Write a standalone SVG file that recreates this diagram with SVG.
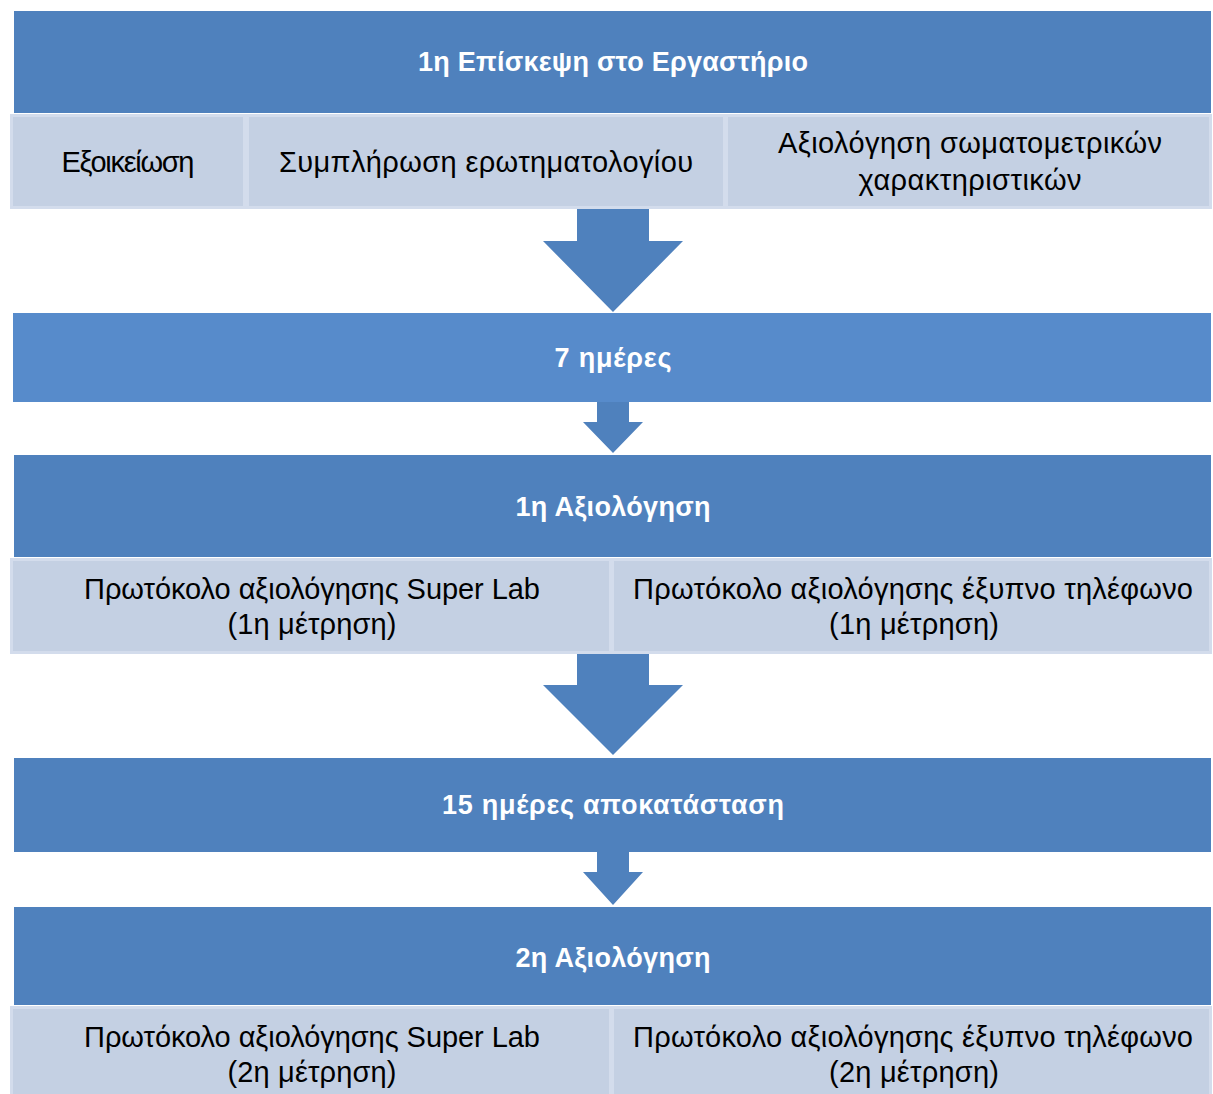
<svg xmlns="http://www.w3.org/2000/svg" width="1213" height="1094" viewBox="0 0 1213 1094">
<style>
.hdr{fill:#4F81BD}
.hdr2{fill:#578BCB}
.sub{fill:#C4D0E3;stroke:#D3DCEC;stroke-width:3}
.arr{fill:#4F81BD}
.tb{font-family:"Liberation Sans",Arial,sans-serif;font-weight:bold;font-size:27px;fill:#FFFFFF;text-anchor:middle;dominant-baseline:central}
.tr{font-family:"Liberation Sans",Arial,sans-serif;font-size:29px;fill:#000000;text-anchor:middle;dominant-baseline:central}
</style>
<rect width="1213" height="1094" fill="#FFFFFF"/>
<g id="visit1">
  <rect class="hdr" x="14" y="11" width="1197" height="102"/>
  <text class="tb" x="613" y="62" textLength="390">1η Επίσκεψη στο Εργαστήριο</text>
</g>
<g id="familiarization">
  <rect class="sub" x="11.5" y="115.5" width="233" height="92"/>
  <text class="tr" x="128" y="162" textLength="133">Εξοικείωση</text>
</g>
<g id="questionnaire">
  <rect class="sub" x="247.5" y="115.5" width="477" height="92"/>
  <text class="tr" x="486" y="162" textLength="414">Συμπλήρωση ερωτηματολογίου</text>
</g>
<g id="anthropometrics">
  <rect class="sub" x="726.5" y="115.5" width="484" height="92"/>
  <text class="tr" x="970" y="143" textLength="384">Αξιολόγηση σωματομετρικών</text>
  <text class="tr" x="970" y="180" textLength="223">χαρακτηριστικών</text>
</g>
<g id="days7">
  <rect class="hdr2" x="13" y="313" width="1198" height="89"/>
  <text class="tb" x="613" y="358" textLength="117">7 ημέρες</text>
</g>
<g id="eval1">
  <rect class="hdr" x="14" y="455" width="1197" height="102"/>
  <text class="tb" x="613" y="507" textLength="195">1η Αξιολόγηση</text>
</g>
<g id="superlab1">
  <rect class="sub" x="11.5" y="559.5" width="599" height="93"/>
  <text class="tr" x="312" y="589" textLength="456">Πρωτόκολο αξιολόγησης Super Lab</text>
  <text class="tr" x="312" y="624" textLength="169">(1η μέτρηση)</text>
</g>
<g id="phone1">
  <rect class="sub" x="612.5" y="559.5" width="598" height="93"/>
  <text class="tr" x="913" y="589" textLength="560">Πρωτόκολο αξιολόγησης έξυπνο τηλέφωνο</text>
  <text class="tr" x="914" y="624" textLength="170">(1η μέτρηση)</text>
</g>
<g id="rehab15">
  <rect class="hdr" x="14" y="758" width="1197" height="94"/>
  <text class="tb" x="613" y="805" textLength="342">15 ημέρες αποκατάσταση</text>
</g>
<g id="eval2">
  <rect class="hdr" x="14" y="907" width="1197" height="98"/>
  <text class="tb" x="613" y="958" textLength="195">2η Αξιολόγηση</text>
</g>
<g id="superlab2">
  <rect class="sub" x="11.5" y="1007.5" width="599" height="95"/>
  <text class="tr" x="312" y="1037" textLength="456">Πρωτόκολο αξιολόγησης Super Lab</text>
  <text class="tr" x="312" y="1072" textLength="169">(2η μέτρηση)</text>
</g>
<g id="phone2">
  <rect class="sub" x="612.5" y="1007.5" width="598" height="95"/>
  <text class="tr" x="913" y="1037" textLength="560">Πρωτόκολο αξιολόγησης έξυπνο τηλέφωνο</text>
  <text class="tr" x="914" y="1072" textLength="170">(2η μέτρηση)</text>
</g>
<g id="connectors">
  <polygon class="arr" points="577,209 649,209 649,241 683,241 613,312 543,241 577,241"/>
  <polygon class="arr" points="597,402 629,402 629,422 643,422 613,453 583,422 597,422" fill="#5588C6"/>
  <polygon class="arr" points="577,654 649,654 649,685 683,685 613,755 543,685 577,685"/>
  <polygon class="arr" points="597,852 629,852 629,872 643,872 613,905 583,872 597,872"/>
</g>
</svg>
